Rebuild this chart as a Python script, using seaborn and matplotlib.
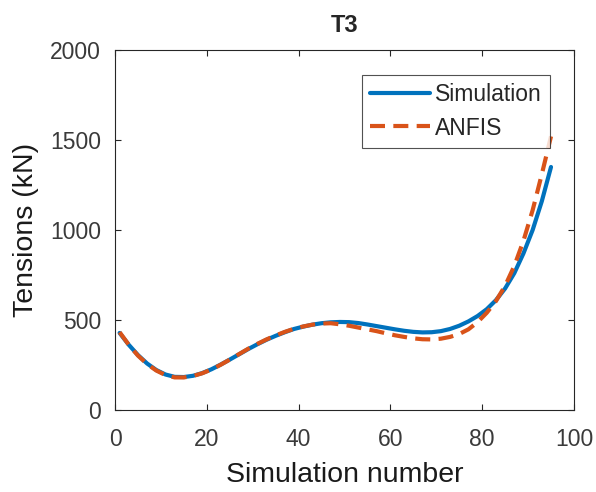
#!/usr/bin/env python3
# T3 tension: simulation vs ANFIS prediction

import numpy as np
import pandas as pd
import matplotlib
matplotlib.use("Agg")
import matplotlib.pyplot as plt
import seaborn as sns

# Simulation numbers (every second run)
sim_number = list(range(1, 96, 2))

# Tensions (kN)
simulation = [428, 362, 305, 258, 222, 197, 184, 183, 190, 205,
              226, 252, 280, 309, 338, 365, 390, 412, 432, 450,
              463, 474, 482, 487, 489, 488, 483, 475, 466, 457,
              448, 440, 434, 431, 432, 438, 450, 468, 492, 522,
              560, 610, 675, 760, 870, 1000, 1160, 1350]
anfis = [432, 362, 302, 255, 219, 194, 181, 181, 189, 204,
         225, 251, 280, 310, 340, 367, 392, 414, 434, 451,
         464, 474, 480, 482, 476, 468, 458, 448, 438, 426,
         415, 406, 398, 393, 392, 396, 406, 422, 448, 488,
         540, 605, 690, 800, 940, 1110, 1310, 1520]

df = pd.DataFrame({
    "Simulation number": sim_number * 2,
    "Tension": simulation + anfis,
    "series": ["Simulation"] * len(sim_number) + ["ANFIS"] * len(sim_number),
})

sns.set_style("white")
plt.rcParams["font.family"] = ["Liberation Sans", "DejaVu Sans"]

fig = plt.figure(figsize=(5.96, 4.92), dpi=100)
ax = fig.add_axes([0.193, 0.1667, 0.77, 0.7317])

sns.lineplot(data=df[df["series"] == "Simulation"], x="Simulation number", y="Tension",
             color="#0072BD", linewidth=3.0, label="Simulation", ax=ax)
sns.lineplot(data=df[df["series"] == "ANFIS"], x="Simulation number", y="Tension",
             color="#D95319", linewidth=3.0, linestyle=(0, (3.6, 2.0)), label="ANFIS", ax=ax)

axis_col = "#262626"
ax.set_xlim(0, 100)
ax.set_ylim(0, 2000)
ax.set_xticks(np.arange(0, 101, 20))
ax.set_yticks(np.arange(0, 2001, 500))
ax.tick_params(direction="in", length=4, width=0.8, colors=axis_col, labelcolor="#3a3a3a",
               labelsize=16.5, top=True, right=True, bottom=True, left=True)
ax.tick_params(axis="x", pad=13)
ax.tick_params(axis="y", pad=10)
for sp in ax.spines.values():
    sp.set_color(axis_col)
    sp.set_linewidth(0.8)
    sp.set_visible(True)

ax.set_xlabel("Simulation number", fontsize=20.5, color="#1a1a1a", labelpad=8)
ax.set_ylabel("Tensions (kN)", fontsize=20.5, color="#1a1a1a", labelpad=8)
ax.set_title("T3", fontsize=17, fontweight="bold", pad=13)

leg = ax.legend(loc="upper right", bbox_to_anchor=(0.948, 0.930), fontsize=16.5,
                frameon=True, fancybox=False, handlelength=2.6, borderpad=0.35,
                labelspacing=0.45, handletextpad=0.25, borderaxespad=0)
leg.get_frame().set_edgecolor(axis_col)
leg.get_frame().set_linewidth(0.8)

plt.savefig("out.png", dpi=100)
